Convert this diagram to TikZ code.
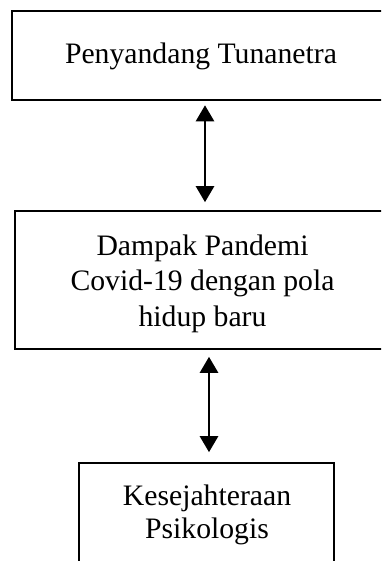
\documentclass[tikz,border=0pt]{standalone}
\usepackage{fontspec}
\setmainfont{Liberation Serif}
\usetikzlibrary{arrows.meta}
\begin{document}
\begin{tikzpicture}[x=1pt,y=-1pt,
  box/.style={draw=black,line width=2.6pt,inner sep=0pt},
  txt/.style={font=\fontsize{29.7}{35.8}\selectfont,align=center,anchor=base,inner sep=0pt},
  arr/.style={line width=2.6pt,{Triangle[width=18pt,length=16pt]}-{Triangle[width=18pt,length=16pt]}}]
\useasboundingbox (0,0) rectangle (381,561);
\clip (0,0) rectangle (381,561);
\node[box,minimum width=386pt,minimum height=89pt] (top) at (205,55.5) {};
\node[box,minimum width=388pt,minimum height=138pt] (mid) at (209,280) {};
\node[box,minimum width=255pt,minimum height=160pt] (bot) at (206.5,543) {};
\node[txt] (toptext) at (201,63.3) {Penyandang Tunanetra};
\node[txt] (midtext) at (202.5,326.7) {Dampak Pandemi\\Covid-19 dengan pola\\hidup baru};
\node[txt,font=\fontsize{29.7}{33.5}\selectfont] (bottext) at (207,538.5) {Kesejahteraan\\Psikologis};
\draw[arr,shorten <=4pt,shorten >=7.5pt] (top.south) -- (top.south |- mid.north);
\draw[arr,shorten <=6.5pt,shorten >=9.5pt] (mid.south) -- (mid.south |- bot.north);
\end{tikzpicture}
\end{document}
